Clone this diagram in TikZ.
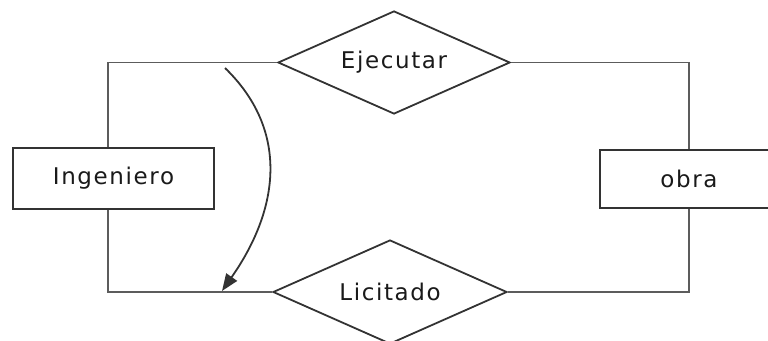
\documentclass[tikz,border=0pt]{standalone}
\usepackage{fontspec}
\setmainfont{DejaVu Sans}[LetterSpace=7]
\usetikzlibrary{shapes.geometric,arrows.meta}
\definecolor{ln}{HTML}{333333}
\definecolor{tx}{HTML}{1A1A1A}
\tikzset{
  ent/.style={draw=ln, line width=1.8pt, rectangle, inner sep=0pt, text=tx, font=\fontsize{23}{27}\selectfont},
  rel/.style={draw=ln, line width=1.8pt, diamond, aspect=2.25, inner sep=0pt, text=tx, font=\fontsize{23}{27}\selectfont},
  link/.style={draw=ln!80, line width=1.8pt},
}
\begin{document}
\begin{tikzpicture}[x=1pt,y=-1pt]
\useasboundingbox (0,0) rectangle (768,340);
\clip (0,0) rectangle (768,340);
\node[ent, minimum width=201pt, minimum height=61pt] (ing) at (113.5,178.5) {Ingeniero};
\node[ent, minimum width=178pt, minimum height=58pt] (obra) at (689,179) {obra};
\node[rel, minimum width=232pt, minimum height=103pt] (ej) at (394,62.5) {Ejecutar};
\node[rel, minimum width=234pt, minimum height=104pt] (lic) at (390,292) {Licitado};
\draw[link] ([xshift=-5.5pt]ing.north) |- (ej.west);
\draw[link] ([xshift=-5.5pt]ing.south) |- (lic.west);
\draw[link] (obra.north) |- (ej.east);
\draw[link] (obra.south) |- (lic.east);
\coordinate (as) at (225,68);
\coordinate (ae) at (222,291);
\draw[draw=ln, line width=1.8pt, -{Triangle[length=17pt,width=13pt]}] (as) .. controls (287,128) and (282,205) .. (ae);
\end{tikzpicture}
\end{document}
